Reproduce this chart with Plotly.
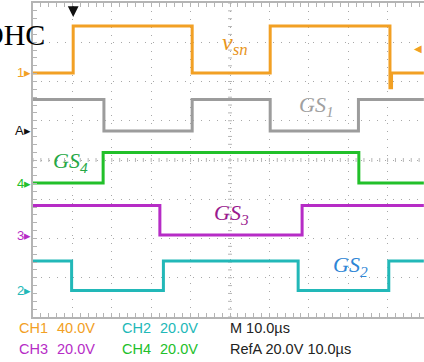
import plotly.graph_objects as go

# ---------------- data (oscilloscope screen) ----------------
US_PER_DIV = 10.0          # M 10.0us
screen_end_us = 99.2       # visible right edge of the screen

# channel volts/div and ground-marker positions (divisions from screen centre)
vsn_vdiv, vsn_offset = 40.0, 2.217     # CH1
gs1_vdiv, gs1_offset = 20.0, 0.739     # RefA
gs4_vdiv, gs4_offset = 20.0, -0.586    # CH4
gs3_vdiv, gs3_offset = 20.0, -1.911    # CH3
gs2_vdiv, gs2_offset = 20.0, -3.325    # CH2

# switching edges (us) and the levels (V) between them
vsn_edges = [10.2, 40.4, 60.2, 90.6, 91.0]
vsn_levels = [0, 48, 0, 48, -15, 0]
gs1_edges = [18.0, 40.4, 60.2, 82.6]
gs1_levels = [16, 0, 16, 0, 16]
gs4_edges = [17.8, 82.7]
gs4_levels = [0, 15.5, 0]
gs3_edges = [32.2, 68.3]
gs3_levels = [15, 0, 15]
gs2_edges = [9.8, 33.1, 67.3, 90.3]
gs2_levels = [15, 0, 15, 0, 15]

# readout text tokens
readout_row1 = ["CH1", "40.0V", "CH2", "20.0V", "M 10.0\u00b5s"]
readout_row2 = ["CH3", "20.0V", "CH4", "20.0V", "RefA 20.0V 10.0\u00b5s"]

# ---------------- styling ----------------
C_ORANGE = "#F2A024"
C_GRAY = "#9C9C9C"
C_GREEN = "#22C02A"
C_MAGENTA = "#B62CC6"
C_CYAN = "#22B8B8"
C_FRAME = "#B4B4B4"

W, H = 424, 362
PL, PT, PB = 33, 3, 317
XMAX = (W - PL) / 39.4  # divisions visible


def px_x(px):
    return (px - PL) / (W - PL)


def px_y(py):
    return (PB - py) / (PB - PT)


def step(edges, levels, vdiv, offset):
    xs = [0.0] + [e / US_PER_DIV for e in edges] + [screen_end_us / US_PER_DIV]
    ys = [offset + v / vdiv for v in levels] + [offset + levels[-1] / vdiv]
    return xs, ys


fig = go.Figure()
series = [
    ("RefA", gs1_edges, gs1_levels, gs1_vdiv, gs1_offset, C_GRAY),
    ("CH1", vsn_edges, vsn_levels, vsn_vdiv, vsn_offset, C_ORANGE),
    ("CH4", gs4_edges, gs4_levels, gs4_vdiv, gs4_offset, C_GREEN),
    ("CH3", gs3_edges, gs3_levels, gs3_vdiv, gs3_offset, C_MAGENTA),
    ("CH2", gs2_edges, gs2_levels, gs2_vdiv, gs2_offset, C_CYAN),
]
for name, e, l, vd, off, col in series:
    xs, ys = step(e, l, vd, off)
    fig.add_trace(go.Scatter(x=xs, y=ys, mode="lines", name=name,
                             line=dict(color=col, width=3, shape="hv"),
                             hoverinfo="skip", showlegend=False))

# centre-cross tick marks
shapes = []
for k in range(0, 51):
    xv = k * 0.2
    shapes.append(dict(type="line", xref="x", yref="y", x0=xv, x1=xv, y0=-0.05, y1=0.05,
                       layer="below", line=dict(color=C_FRAME, width=1)))
for k in range(0, 41):
    yv = -4 + k * 0.2
    shapes.append(dict(type="line", xref="x", yref="y", x0=4.95, x1=5.05, y0=yv, y1=yv,
                       layer="below", line=dict(color=C_FRAME, width=1)))

ann = []
# left channel markers
markers = [("1", vsn_offset, C_ORANGE), ("A", gs1_offset, "#111111"),
           ("4", gs4_offset, C_GREEN), ("3", gs3_offset, C_MAGENTA), ("2", gs2_offset, C_CYAN)]
for txt, yv, col in markers:
    ann.append(dict(x=0, xref="paper", y=yv, yref="y", xanchor="right", yanchor="middle",
                    text=txt + "\u25b8", showarrow=False,
                    font=dict(family="Liberation Sans", size=13, color=col)))

# trigger position arrow
ann.append(dict(x=vsn_edges[0] / US_PER_DIV, y=4 - 14 / 39.25, xref="x", yref="y", text="",
                showarrow=True, ax=0, ay=-12, arrowhead=2, arrowsize=1.2,
                arrowwidth=1.8, arrowcolor="#111111"))
# trigger level marker
ann.append(dict(x=1, xref="paper", y=vsn_offset + 25 / vsn_vdiv, yref="y",
                xanchor="right", yanchor="middle", text="\u25c0", showarrow=False,
                font=dict(size=10, color=C_ORANGE)))

SERIF = "Liberation Serif, Times New Roman, serif"
ann.append(dict(x=px_x(47), y=px_y(35), xref="paper", yref="paper", xanchor="right",
                yanchor="middle", text="DHC", showarrow=False,
                font=dict(family=SERIF, size=30, color="#000000")))

sig_labels = [
    ("<i>v</i><sub><i>sn</i></sub>", 235, 44, "#E8951C", 24),
    ("<i>GS</i><sub><i>1</i></sub>", 316, 106, "#A0A0A0", 22),
    ("<i>GS</i><sub><i>4</i></sub>", 70, 162, "#25A846", 22),
    ("<i>GS</i><sub><i>3</i></sub>", 231, 214, "#9A1A8E", 22),
    ("<i>GS</i><sub><i>2</i></sub>", 350, 266, "#2E86D6", 22),
]
for txt, cx, cy, col, fs in sig_labels:
    ann.append(dict(x=px_x(cx), y=px_y(cy), xref="paper", yref="paper",
                    xanchor="center", yanchor="middle", text=txt, showarrow=False,
                    font=dict(family=SERIF, size=fs, color=col)))

SANS = "Liberation Sans, Arial, sans-serif"
row1_cols = [C_ORANGE, C_ORANGE, C_CYAN, C_CYAN, "#222222"]
row2_cols = [C_MAGENTA, C_MAGENTA, C_GREEN, C_GREEN, "#222222"]
tok_x = [17, 55, 120, 158, 228]
for toks, cols, py in ((readout_row1, row1_cols, 328), (readout_row2, row2_cols, 349)):
    for t, c, px in zip(toks, cols, tok_x):
        ann.append(dict(x=px_x(px), y=px_y(py), xref="paper", yref="paper",
                        xanchor="left", yanchor="middle", text=t, showarrow=False,
                        font=dict(family=SANS, size=14.5, color=c)))

fig.update_layout(
    width=W, height=H,
    margin=dict(l=PL, r=0, t=PT, b=H - PB, pad=0),
    paper_bgcolor="white", plot_bgcolor="white",
    shapes=shapes, annotations=ann,
    xaxis=dict(range=[0, XMAX], dtick=1, tick0=0, showticklabels=False,
               showgrid=True, gridcolor="#A8A8A8", griddash="1px,7px", gridwidth=1,
               zeroline=False, showline=True, linecolor=C_FRAME, linewidth=1.5,
               mirror="ticks", ticks="inside", ticklen=4, tickcolor=C_FRAME,
               minor=dict(dtick=0.2, ticks="inside", ticklen=4, tickcolor=C_FRAME,
                          showgrid=False),
               fixedrange=True),
    yaxis=dict(range=[-4, 4], dtick=1, tick0=0, showticklabels=False,
               showgrid=True, gridcolor="#A8A8A8", griddash="1px,7px", gridwidth=1,
               zeroline=False, showline=True, linecolor=C_FRAME, linewidth=1.5,
               mirror=False, ticks="inside", ticklen=4, tickcolor=C_FRAME,
               minor=dict(dtick=0.2, ticks="inside", ticklen=4, tickcolor=C_FRAME,
                          showgrid=False),
               fixedrange=True),
)

fig.write_html("out.html")
